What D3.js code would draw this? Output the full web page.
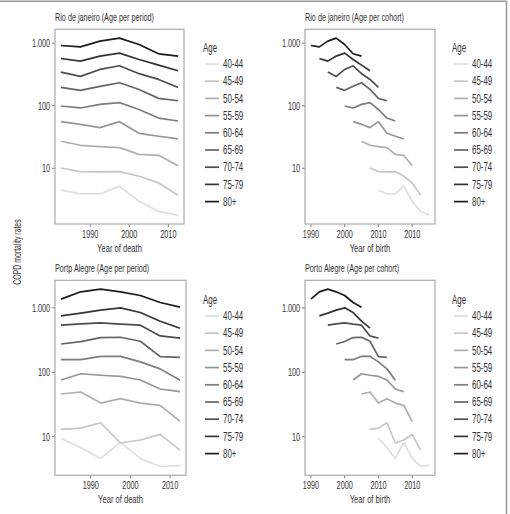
<!DOCTYPE html>
<html>
<head>
<meta charset="utf-8">
<script src="https://cdn.jsdelivr.net/npm/d3@7"></script>
<style>
  body { margin: 0; background: #fff; }
  svg text { font-family: "Liberation Sans", Arial, sans-serif; fill: #333; }
</style>
</head>
<body>
<svg id="chart" width="510" height="514"></svg>
<script>
const ages = ['40-44', '45-49', '50-54', '55-59', '60-64', '65-69', '70-74', '75-79', '80+']
const periods = [1982.5, 1987.5, 1992.5, 1997.5, 2002.5, 2007.5, 2012.5]
// birth-year positions used in the cohort panels, each age takes 7 of them
const cohortYears = [1990, 1992.5, 1995, 1997.5, 2000, 2002.5, 2005, 2007.5, 2010, 2012.5, 2015, 2017.5, 2020, 2022.5, 2025]

const rioRates = [
  [4.46, 3.89, 3.89, 5.16, 2.97, 2.04, 1.78],
  [10.1, 8.85, 8.74, 8.85, 7.45, 5.83, 3.71],
  [27, 23.3, 22.2, 21.4, 16.7, 16.1, 11.0],
  [55.6, 50.4, 44.6, 55.6, 36.2, 32.5, 29.4],
  [99, 92, 105, 112, 87, 63.5, 57],
  [196, 176, 204, 233, 182, 131, 120],
  [345, 294, 380, 435, 325, 263, 196],
  [569, 516, 621, 692, 548, 446, 362],
  [918, 873, 1076, 1202, 952, 676, 621]
]

const portoRates = [
  [9.4, 6.8, 4.6, 8.2, 4.6, 3.46, 3.58],
  [13, 13.6, 16.5, 8.0, 8.9, 10.9, 6.2],
  [46, 49.5, 33.3, 39, 33.3, 30.7, 17.3],
  [76, 95, 90, 86.6, 76, 55, 50],
  [157, 157, 177, 177, 145, 113, 75],
  [275, 300, 346, 350, 303, 175, 171],
  [538, 564, 585, 558, 538, 367, 338],
  [752, 827, 921, 1000, 846, 621, 483],
  [1365, 1773, 1950, 1773, 1556, 1211, 1024]
]

const yTicks = [10, 100, 1000]
const yTickLabels = ['10', '100', '1.000']
const periodTicks = [1990, 2000, 2010]
const periodTickLabels = ['1990', '2000', '2010']
const cohortTicks = [1990, 2000, 2010, 2020]
const cohortTickLabels = ['1990', '2000', '2010', '2010']

// the original uses a condensed face, squeeze a regular one horizontally
const squeeze = 0.66

const svg = d3.select('#chart')

const color = d3.scaleOrdinal()
  .domain(ages)
  .range(ages.map((d, i) => d3.interpolateRgb('#dedede', '#1c1c1c')(i / (ages.length - 1))))

function at(x, y, extra) {
  return `translate(${x}, ${y})${extra || ''} scale(${squeeze}, 1)`
}

function drawPanel(p) {
  const g = svg.append('g')

  const x = d3.scaleLinear().domain(p.xDomain).range([p.x0, p.x1])
  const all = p.rates.flat()
  const [lo, hi] = d3.extent(all).map(Math.log10)
  const pad = (hi - lo) * 0.05
  const y = d3.scaleLog()
    .domain([Math.pow(10, lo - pad), Math.pow(10, hi + pad)])
    .range([p.y1, p.y0])

  g.append('text')
    .attr('transform', at(p.x0, p.y0 - 8))
    .attr('font-size', 11)
    .text(p.title)

  // y axis
  g.selectAll('line.ytick')
    .data(yTicks)
    .join('line')
    .attr('x1', p.x0 - 3).attr('x2', p.x0)
    .attr('y1', d => y(d)).attr('y2', d => y(d))
    .attr('stroke', '#777')
  g.selectAll('text.ylab')
    .data(yTicks)
    .join('text')
    .attr('class', 'ylab')
    .attr('transform', d => at(p.x0 - 5, y(d)))
    .attr('dy', '0.35em')
    .attr('text-anchor', 'end')
    .attr('font-size', 11)
    .text((d, i) => yTickLabels[i])

  // x axis
  g.selectAll('line.xtick')
    .data(p.xTicks)
    .join('line')
    .attr('x1', d => x(d)).attr('x2', d => x(d))
    .attr('y1', p.y1).attr('y2', p.y1 + 3)
    .attr('stroke', '#777')
  g.selectAll('text.xlab')
    .data(p.xTicks)
    .join('text')
    .attr('class', 'xlab')
    .attr('transform', d => at(x(d), p.y1 + 6))
    .attr('dy', '0.7em')
    .attr('text-anchor', 'middle')
    .attr('font-size', 11)
    .text((d, i) => p.xTickLabels[i])
  g.append('text')
    .attr('transform', at((p.x0 + p.x1) / 2, p.y1 + 28))
    .attr('text-anchor', 'middle')
    .attr('font-size', 11.5)
    .text(p.xTitle)

  const line = d3.line()
    .x(d => x(d[0]))
    .y(d => y(d[1]))

  g.selectAll('path.series')
    .data(p.rates.map((r, i) => ({age: ages[i], i, r})))
    .join('path')
    .attr('fill', 'none')
    .attr('stroke', d => color(d.age))
    .attr('stroke-width', 1.7)
    .attr('stroke-linejoin', 'round')
    .attr('d', d => {
      const xs = p.cohort ? cohortYears.slice(ages.length - 1 - d.i, ages.length - 1 - d.i + periods.length) : periods
      return line(d.r.map((v, j) => [xs[j], v]))
    })

  g.append('rect')
    .attr('x', p.x0).attr('y', p.y0)
    .attr('width', p.x1 - p.x0).attr('height', p.y1 - p.y0)
    .attr('fill', 'none')
    .attr('stroke', '#aaa')
    .attr('stroke-width', 1.2)

  // legend
  const lg = g.append('g').attr('transform', `translate(${p.lx}, ${p.ly})`)
  lg.append('text')
    .attr('transform', at(-2, 0))
    .attr('dy', '0.35em')
    .attr('font-size', 12)
    .text('Age')
  const item = lg.selectAll('g.item')
    .data(ages)
    .join('g')
    .attr('transform', (d, i) => `translate(0, ${16 + i * 17.2})`)
  item.append('line')
    .attr('x1', 0).attr('x2', 14)
    .attr('stroke', d => color(d))
    .attr('stroke-width', 1.7)
  item.append('text')
    .attr('transform', at(18, 0))
    .attr('dy', '0.35em')
    .attr('font-size', 12)
    .text(d => d)
}

drawPanel({title: 'Rio de janeiro (Age per period)', x0: 55, x1: 184, y0: 29.3, y1: 224,
  xDomain: [1981, 2014], xTicks: periodTicks, xTickLabels: periodTickLabels,
  xTitle: 'Year of death', rates: rioRates, cohort: false, lx: 205, ly: 48})
drawPanel({title: 'Rio de janeiro (Age per cohort)', x0: 305, x1: 435, y0: 29.3, y1: 224,
  xDomain: [1988.25, 2026.75], xTicks: cohortTicks, xTickLabels: cohortTickLabels,
  xTitle: 'Year of birth', rates: rioRates, cohort: true, lx: 454, ly: 48})
drawPanel({title: 'Portp Alegre (Age per period)', x0: 55, x1: 186, y0: 280.3, y1: 475.3,
  xDomain: [1981, 2014], xTicks: periodTicks, xTickLabels: periodTickLabels,
  xTitle: 'Year of death', rates: portoRates, cohort: false, lx: 205, ly: 300})
drawPanel({title: 'Porto Alegre (Age per cohort)', x0: 305, x1: 435, y0: 280.3, y1: 475.3,
  xDomain: [1988.25, 2026.75], xTicks: cohortTicks, xTickLabels: cohortTickLabels,
  xTitle: 'Year of birth', rates: portoRates, cohort: true, lx: 454, ly: 300})

svg.append('text')
  .attr('transform', 'translate(21, 252) rotate(-90) scale(' + squeeze + ', 1)')
  .attr('text-anchor', 'middle')
  .attr('font-size', 10.5)
  .text('COPD mortality rates')

// outer frame (top and right edges only)
svg.append('path')
  .attr('d', 'M0,1.2H506.5V514')
  .attr('fill', 'none')
  .attr('stroke', '#999')
  .attr('stroke-width', 1.5)
</script>
</body>
</html>
